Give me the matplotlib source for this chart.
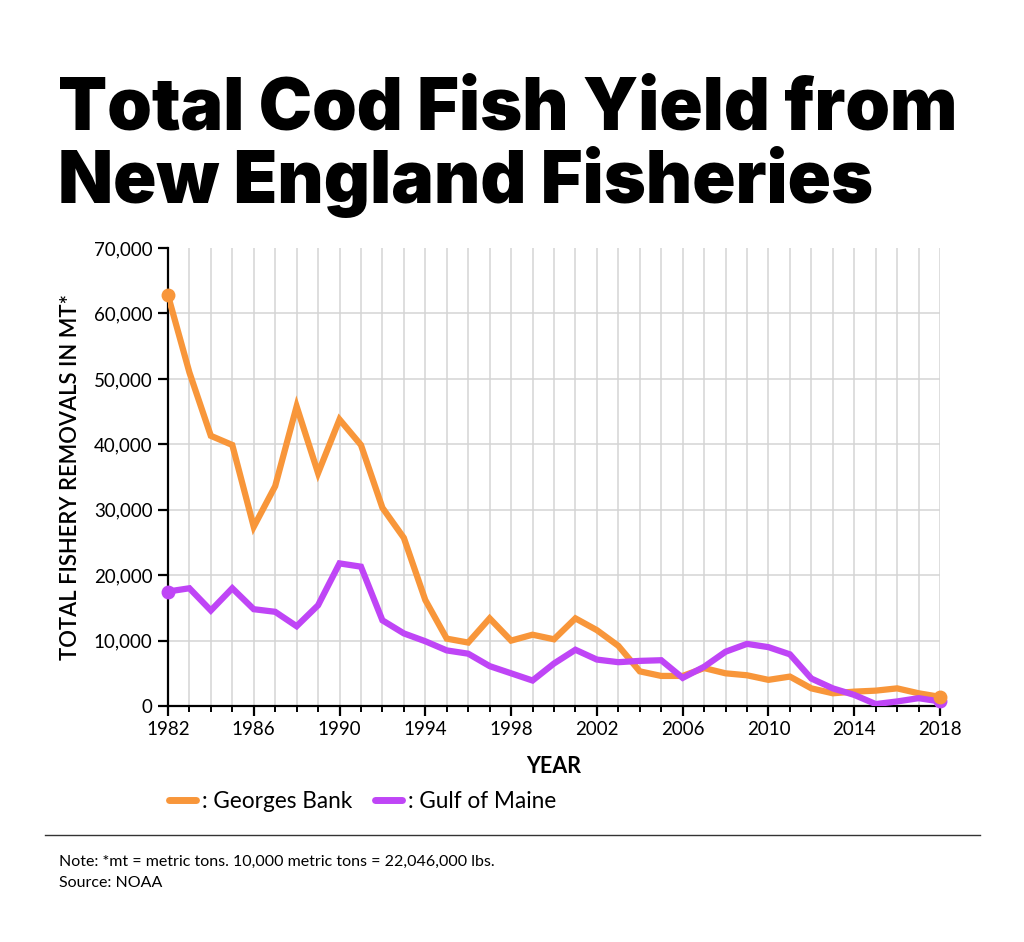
import matplotlib.pyplot as plt
from matplotlib.ticker import FuncFormatter
from matplotlib.lines import Line2D

# 数据
years = list(range(1982, 2019))
georges_bank = [62800, 51000, 41300, 39900, 27400, 33600, 45800, 35600, 43800, 39900,
                30300, 25700, 16200, 10300, 9700, 13400, 10000, 10900, 10200, 13400,
                11600, 9200, 5300, 4600, 4600, 5800, 5000, 4700, 4000, 4500,
                2700, 1950, 2200, 2350, 2700, 1950, 1400]
gulf_of_maine = [17500, 18000, 14600, 18000, 14800, 14400, 12200, 15400, 21800, 21300,
                 13100, 11100, 9900, 8500, 8000, 6100, 5000, 3900, 6500, 8600,
                 7100, 6700, 6900, 7000, 4300, 6000, 8300, 9500, 9000, 7900,
                 4200, 2700, 1700, 300, 700, 1200, 700]
series_names = [': Georges Bank', ': Gulf of Maine']
series_colors = ['#F8963A', '#BF45F6']

body_font = 'Lato'
title_font = 'Inter'

fig = plt.figure(figsize=(10.24, 9.42), dpi=100)
ax = fig.add_axes([0.164, 0.2505, 0.754, 0.4862])

for i, (vals, name, col) in enumerate(zip([georges_bank, gulf_of_maine], series_names, series_colors)):
    ax.plot(years, vals, color=col, lw=4.5, solid_joinstyle='miter', zorder=3, label=name)
    ax.plot([years[0], years[-1]], [vals[0], vals[-1]], 'o', color=col, ms=9,
            clip_on=False, zorder=5 - i)

ax.set_xlim(1982, 2018)
ax.set_ylim(0, 70000)
ax.set_xticks(years[::4])
ax.set_xticks(years, minor=True)
ax.set_yticks(range(0, 70001, 10000))
ax.yaxis.set_major_formatter(FuncFormatter(lambda v, p: f'{int(v):,}'))

# 网格
ax.grid(which='both', axis='x', color='#d4d4d4', lw=1.1, zorder=0)
ax.grid(which='major', axis='y', color='#d4d4d4', lw=1.1, zorder=0)
ax.get_ygridlines()[-1].set_visible(False)
ax.set_axisbelow(True)

for s in ['top', 'right']:
    ax.spines[s].set_visible(False)
for s in ['left', 'bottom']:
    ax.spines[s].set_linewidth(1.6)

ax.tick_params(axis='both', which='major', direction='out', width=1.6, length=7,
               labelsize=13.5, pad=4)
ax.tick_params(axis='x', which='minor', direction='out', width=1.4, length=4)
for lab in ax.get_xticklabels() + ax.get_yticklabels():
    lab.set_fontfamily(body_font)

ax.set_ylabel('TOTAL FISHERY REMOVALS IN MT*', fontsize=15.8, fontfamily=body_font,
              fontweight='semibold', labelpad=9)
ax.set_xlabel('YEAR', fontsize=15.5, fontfamily=body_font, fontweight='bold', labelpad=13)

# 图例
handles = [Line2D([], [], color=c, lw=5, solid_capstyle='round') for c in series_colors]
fig.legend(handles, series_names, loc='center left', bbox_to_anchor=(0.145, 0.149),
           frameon=False, ncol=2, handlelength=1.2, handletextpad=0.25,
           columnspacing=1.0, prop={'family': body_font, 'size': 16.3})

# 标题
fig.text(0.057, 0.862, 'Total Cod Fish Yield from', fontsize=51.5, fontfamily=title_font,
         fontweight='black', va='baseline', ha='left')
fig.text(0.057, 0.784, 'New England Fisheries', fontsize=51.5, fontfamily=title_font,
         fontweight='black', va='baseline', ha='left')

# 分隔线和注释
fig.add_artist(Line2D([0.044, 0.957], [0.1135, 0.1135], color='#333333', lw=1.0))
fig.text(0.058, 0.0855, 'Note: *mt = metric tons. 10,000 metric tons = 22,046,000 lbs.',
         fontsize=11.5, fontfamily=body_font, va='center')
fig.text(0.058, 0.0625, 'Source: NOAA', fontsize=11.5, fontfamily=body_font, va='center')

fig.savefig('out.png', dpi=100, facecolor='white')
